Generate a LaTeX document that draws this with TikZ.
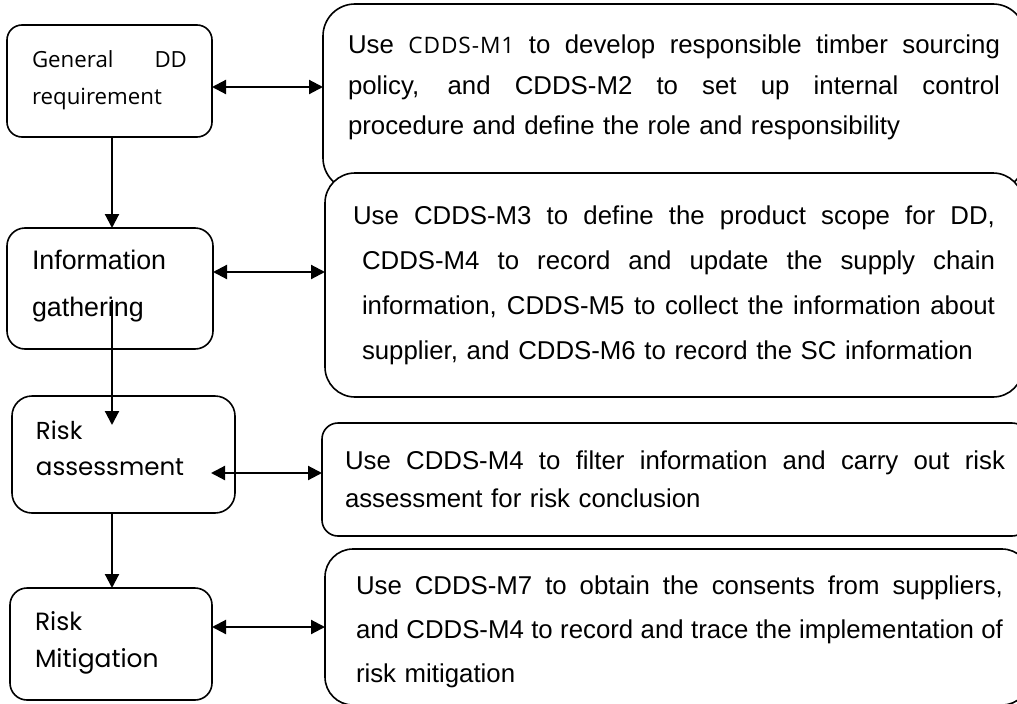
\documentclass[tikz,border=0pt]{standalone}
\usepackage{fontspec}
\usetikzlibrary{arrows.meta}
\newfontfamily\arialf{Liberation Sans}
\newfontfamily\opensf{Open Sans}
\newfontfamily\opensfwide[LetterSpace=4]{Open Sans}
\newfontfamily\gothf{Poppins}
\newdimen\pxu \pxu=0.75pt
\newcommand\jline[1]{\leavevmode\hbox to \hsize{\spaceskip=0pt\xspaceskip=0pt\relax #1}\\}
\begin{document}
\begin{tikzpicture}[x=0.75pt,y=-0.75pt,
  box/.style={draw=black, line width=1.2pt, fill=white, rounded corners=#1,
    anchor=north west, inner sep=0pt, outer sep=0pt},
  txt/.style={anchor=west, inner sep=0pt, outer sep=0pt, align=left, text width=#1},
  arr/.style={line width=1.6pt, -{Triangle[length=10.5pt,width=10.5pt]}},
  darr/.style={line width=1.6pt, {Triangle[length=10.5pt,width=10.5pt]}-{Triangle[length=10.5pt,width=10.5pt]}},
  rtext/.style={font=\arialf\fontsize{19.35pt}{#1}\selectfont}
]
\useasboundingbox (0,0) rectangle (1017,703);
\fill[white] (0,0) rectangle (1017,703);

% right boxes
\node[box=32\pxu, minimum width=702\pxu, minimum height=186\pxu] (r1) at (323,4) {};
\node[txt=652\pxu, rtext=30.4pt] (r1t) at (348,87.5)
 {\jline{Use {\opensfwide\fontsize{17pt}{17pt}\selectfont CDDS-M1} to develop responsible timber sourcing}
  \jline{policy, and CDDS-M2 to set up internal control}
  procedure and define the role and responsibility};

\node[box=30\pxu, minimum width=698\pxu, minimum height=224\pxu] (r2) at (325,173) {};
\node[txt=633\pxu, rtext=33.75pt] (r2t) at (362,285.5)
 {\leavevmode\hspace*{-9\pxu}\hbox to \dimexpr\hsize+9\pxu\relax{\spaceskip=0pt\xspaceskip=0pt\relax Use CDDS-M3 to define the product scope for DD,}\\
  \jline{CDDS-M4 to record and update the supply chain}
  \jline{information, CDDS-M5 to collect the information about}
  supplier, and CDDS-M6 to record the SC information};

\node[box=16\pxu, minimum width=706\pxu, minimum height=113\pxu] (r3) at (322,423) {};
\node[txt=660\pxu, rtext=28.5pt] (r3t) at (345,479)
 {\jline{Use CDDS-M4 to filter information and carry out risk}
  assessment for risk conclusion};

\node[box=28\pxu, minimum width=705\pxu, minimum height=156\pxu] (r4) at (325,549) {};
\node[txt=647\pxu, rtext=33pt] (r4t) at (356,632)
 {\jline{Use CDDS-M7 to obtain the consents from suppliers,}
  \jline{and CDDS-M4 to record and trace the implementation of}
  risk mitigation};

% left boxes
\node[box=15\pxu, minimum width=205\pxu, minimum height=112\pxu] (b1) at (7,25) {};
\node[txt=155\pxu, font=\opensf\fontsize{16.7pt}{27.5pt}\selectfont] (b1t) at (32,80)
 {\jline{General DD}requirement};

\node[box=18\pxu, minimum width=206\pxu, minimum height=121\pxu] (b2) at (7,228) {};
\node[txt=175\pxu, font=\arialf\fontsize{20.1pt}{35.25pt}\selectfont] (b2t) at (32,286.5)
 {Information\\gathering};

\node[box=20\pxu, minimum width=223\pxu, minimum height=117\pxu] (b3) at (12,396) {};
\node[txt=190\pxu, font=\gothf\fontsize{18.4pt}{27pt}\selectfont] (b3t) at (36,448)
 {Risk\\assessment};

\node[box=17\pxu, minimum width=202\pxu, minimum height=112\pxu] (b4) at (10,588) {};
\node[txt=170\pxu, font=\gothf\fontsize{18.7pt}{27.75pt}\selectfont] (b4t) at (35,643)
 {Risk\\Mitigation};

% connectors
\coordinate (vx) at (112,0);
\coordinate (ya) at (0,87);
\coordinate (yb) at (0,272);
\coordinate (yd) at (0,627);
\coordinate (a2s) at (112,300);
\coordinate (a2e) at (112,425);
\coordinate (cs) at (211,473);

\draw[arr] (b1.south -| vx) -- (b2.north -| vx);
\draw[arr] (a2s) -- (a2e);
\draw[arr] (b3.south -| vx) -- (b4.north -| vx);

\draw[darr] (b1.east |- ya) -- (r1.west |- ya);
\draw[darr] (b2.east |- yb) -- (r2.west |- yb);
\draw[darr] (cs) -- (r3.west |- cs);
\draw[darr] (b4.east |- yd) -- (r4.west |- yd);
\end{tikzpicture}
\end{document}
